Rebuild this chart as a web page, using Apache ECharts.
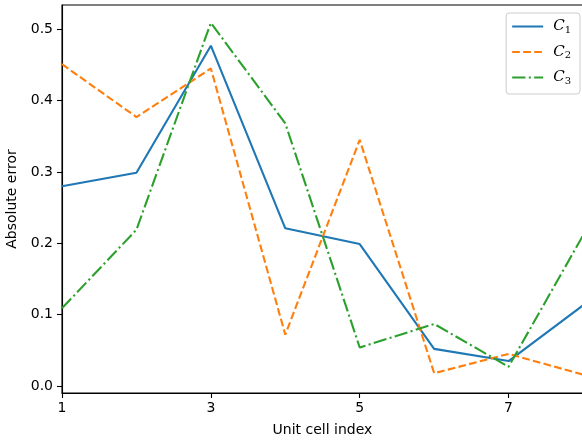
<!DOCTYPE html>
<html>
<head>
<meta charset="utf-8">
<script src="https://cdn.jsdelivr.net/npm/echarts@6/dist/echarts.min.js"></script>
<style>
html,body{margin:0;padding:0;background:#fff;}
#chart{width:582px;height:443px;}
</style>
</head>
<body>
<div id="chart"></div>
<script>
const cells = [1, 2, 3, 4, 5, 6, 7, 8];
const c1 = [0.280, 0.299, 0.477, 0.221, 0.199, 0.052, 0.035, 0.113];
const c2 = [0.451, 0.377, 0.445, 0.072, 0.345, 0.018, 0.045, 0.016];
const c3 = [0.109, 0.219, 0.509, 0.368, 0.054, 0.087, 0.027, 0.211];
const xTicks = [1, 3, 5, 7];
const yTicks = [0.0, 0.1, 0.2, 0.3, 0.4, 0.5];
const seriesNames = ['c1', 'c2', 'c3'];

const font = 'DejaVu Sans';
const pts = arr => cells.map((x, i) => [x, arr[i]]);

const chart = echarts.init(document.getElementById('chart'), null, {renderer: 'canvas'});
chart.setOption({
  animation: false,
  backgroundColor: '#fff',
  grid: {
    left: 62, right: -1, top: 5, bottom: 50,
    containLabel: false, outerBoundsMode: 'none',
    show: true, borderColor: '#000', borderWidth: 1.1, backgroundColor: 'transparent'
  },
  xAxis: {
    type: 'value', min: 1, max: 8,
    name: 'Unit cell index', nameLocation: 'middle', nameGap: 30,
    nameTextStyle: {fontFamily: font, fontSize: 14, color: '#000'},
    axisLine: {show: true, onZero: false, lineStyle: {color: '#000', width: 1.1}},
    axisTick: {show: true, length: 5, lineStyle: {color: '#000', width: 1.1}, customValues: xTicks},
    axisLabel: {fontFamily: font, fontSize: 14, color: '#000', margin: 8, customValues: xTicks,
      formatter: v => String(v)},
    splitLine: {show: false}
  },
  yAxis: {
    type: 'value', min: -0.0098, max: 0.534,
    name: 'Absolute error', nameLocation: 'middle', nameGap: 36, nameRotate: 90,
    nameTextStyle: {fontFamily: font, fontSize: 14, color: '#000'},
    axisLine: {show: true, onZero: false, lineStyle: {color: '#000', width: 1.1}},
    axisTick: {show: true, length: 5, lineStyle: {color: '#000', width: 1.1}, customValues: yTicks},
    axisLabel: {fontFamily: font, fontSize: 14, color: '#000', margin: 9, customValues: yTicks,
      formatter: v => Number(v).toFixed(1)},
    splitLine: {show: false}
  },
  legend: {
    orient: 'vertical', right: 2, top: 13, left: 'auto', bottom: 'auto',
    data: seriesNames,
    itemWidth: 31, itemHeight: 12, itemGap: 9.5,
    padding: [6, 9, 8, 5],
    borderColor: '#cccccc', borderWidth: 1, borderRadius: 3, backgroundColor: 'rgba(255,255,255,0.8)',
    itemStyle: {color: 'rgba(0,0,0,0)', borderWidth: 0, opacity: 0},
    formatter: name => '{c|C}{s|' + name.slice(1) + '}',
    textStyle: {
      padding: [0, 0, 0, 5],
      rich: {
        c: {fontFamily: 'DejaVu Serif', fontStyle: 'italic', fontSize: 15, color: '#000'},
        s: {fontFamily: 'DejaVu Serif', fontSize: 10, color: '#000', padding: [7, 0, 0, 0]}
      }
    }
  },
  series: [
    {name: 'c1', type: 'line', data: pts(c1), symbol: 'none', color: '#1f77b4',
      lineStyle: {width: 2.1, color: '#1f77b4', type: 'solid'}},
    {name: 'c2', type: 'line', data: pts(c2), symbol: 'none', color: '#ff7f0e',
      lineStyle: {width: 2.1, color: '#ff7f0e', type: [7.7, 3.3]}},
    {name: 'c3', type: 'line', data: pts(c3), symbol: 'none', color: '#2ca02c',
      lineStyle: {width: 2.1, color: '#2ca02c', type: [13.3, 3.3, 2.1, 3.3]}}
  ]
});
</script>
</body>
</html>
